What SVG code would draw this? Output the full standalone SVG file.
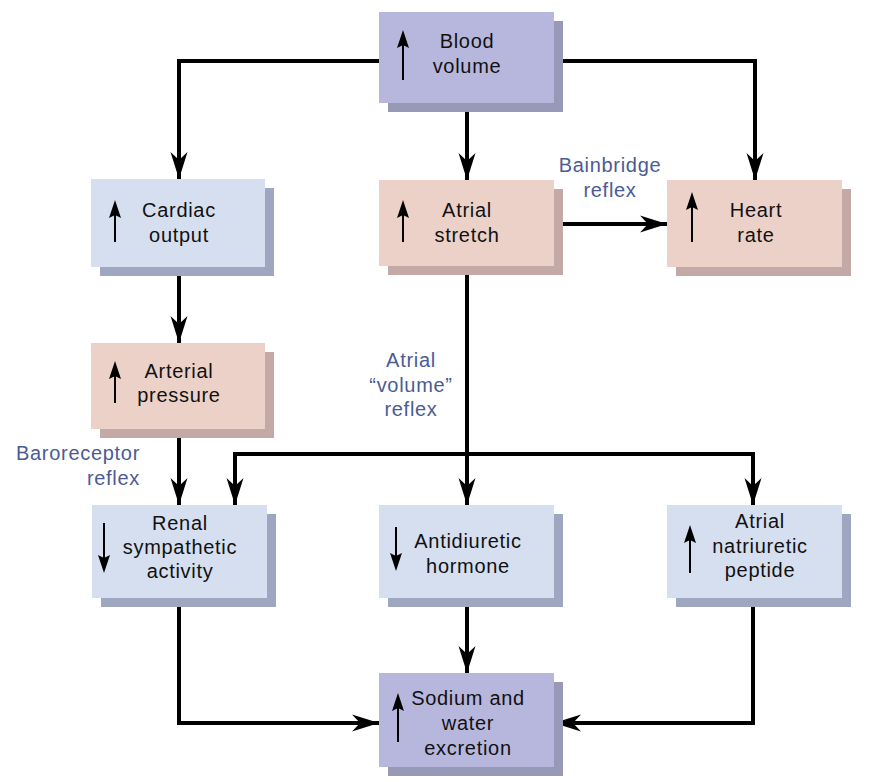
<svg xmlns="http://www.w3.org/2000/svg" width="873" height="781" viewBox="0 0 873 781">
<defs>
<style>
.blue{fill:#d5dff0}.blueS{fill:#9fa6c0}
.pink{fill:#ecd1c9}.pinkS{fill:#c4aaa6}
.purp{fill:#b7b7de}.purpS{fill:#9899b6}
.t{font-family:"Liberation Sans",Arial,sans-serif;font-size:20px;letter-spacing:0.7px;fill:#111;text-anchor:middle}
.lbl{font-family:"Liberation Sans",Arial,sans-serif;font-size:20px;letter-spacing:0.7px;fill:#4b5b96}
.con{fill:none;stroke:#000;stroke-width:4;marker-end:url(#ah)}
.ia{fill:none;stroke:#000;stroke-width:2}
.ih{fill:#000}
</style>
<marker id="ah" markerUnits="userSpaceOnUse" markerWidth="30" markerHeight="20" viewBox="-28 -10 30 20" refX="0" refY="0" orient="auto">
<path d="M0,0 L-27,-8.5 L-19,0 L-27,8.5 Z" fill="#000"/>
</marker>
</defs>

<g id="connectors">
<path class="con" d="M379,61 H179 V179"/>
<path class="con" d="M554,61 H755 V180"/>
<path class="con" d="M467,103 V180"/>
<path class="con" d="M554,224 H667"/>
<path class="con" d="M179,267 V343"/>
<path class="con" d="M179,429 V505"/>
<path class="con" d="M467,266 V505"/>
<path class="con" d="M467,454 H235 V505"/>
<path class="con" d="M467,454 H753 V505"/>
<path class="con" d="M179,598 V723 H379"/>
<path class="con" d="M467,598 V673"/>
<path class="con" d="M753,598 V723 H554"/>
</g>

<g id="blood-volume">
<rect class="purpS" x="388" y="21" width="175" height="91"/>
<rect class="purp" x="379" y="12" width="175" height="91"/>
<line class="ia" x1="403" y1="80" x2="403" y2="44"/><path class="ih" d="M403,30 L409,48 L403,45 L397,48 Z"/>
<text class="t" x="467" y="48">Blood</text><text class="t" x="467" y="73">volume</text>
</g>

<g id="cardiac-output">
<rect class="blueS" x="100" y="188" width="174" height="88"/>
<rect class="blue" x="91" y="179" width="174" height="88"/>
<line class="ia" x1="115" y1="242" x2="115" y2="214"/><path class="ih" d="M115,200 L121,218 L115,215 L109,218 Z"/>
<text class="t" x="179" y="217">Cardiac</text><text class="t" x="179" y="242">output</text>
</g>

<g id="atrial-stretch">
<rect class="pinkS" x="388" y="189" width="175" height="86"/>
<rect class="pink" x="379" y="180" width="175" height="86"/>
<line class="ia" x1="403" y1="242" x2="403" y2="214"/><path class="ih" d="M403,200 L409,218 L403,215 L397,218 Z"/>
<text class="t" x="467" y="217">Atrial</text><text class="t" x="467" y="242">stretch</text>
</g>

<g id="heart-rate">
<rect class="pinkS" x="676" y="189" width="175" height="87"/>
<rect class="pink" x="667" y="180" width="175" height="87"/>
<line class="ia" x1="692" y1="242" x2="692" y2="206"/><path class="ih" d="M692,192 L698,210 L692,207 L686,210 Z"/>
<text class="t" x="756" y="217">Heart</text><text class="t" x="756" y="242">rate</text>
</g>

<g id="arterial-pressure">
<rect class="pinkS" x="100" y="352" width="174" height="86"/>
<rect class="pink" x="91" y="343" width="174" height="86"/>
<line class="ia" x1="115" y1="403" x2="115" y2="375"/><path class="ih" d="M115,361 L121,379 L115,376 L109,379 Z"/>
<text class="t" x="179" y="378">Arterial</text><text class="t" x="179" y="402">pressure</text>
</g>

<g id="renal-sympathetic-activity">
<rect class="blueS" x="101" y="514" width="175" height="93"/>
<rect class="blue" x="92" y="505" width="175" height="93"/>
<line class="ia" x1="104" y1="523" x2="104" y2="559"/><path class="ih" d="M104,573 L110,555 L104,558 L98,555 Z"/>
<text class="t" x="180" y="530">Renal</text><text class="t" x="180" y="554">sympathetic</text><text class="t" x="180" y="578">activity</text>
</g>

<g id="antidiuretic-hormone">
<rect class="blueS" x="388" y="514" width="175" height="93"/>
<rect class="blue" x="379" y="505" width="175" height="93"/>
<line class="ia" x1="396" y1="527" x2="396" y2="557"/><path class="ih" d="M396,571 L402,553 L396,556 L390,553 Z"/>
<text class="t" x="468" y="548">Antidiuretic</text><text class="t" x="468" y="573">hormone</text>
</g>

<g id="atrial-natriuretic-peptide">
<rect class="blueS" x="676" y="514" width="175" height="93"/>
<rect class="blue" x="667" y="505" width="175" height="93"/>
<line class="ia" x1="690" y1="573" x2="690" y2="539"/><path class="ih" d="M690,525 L696,543 L690,540 L684,543 Z"/>
<text class="t" x="760" y="528">Atrial</text><text class="t" x="760" y="553">natriuretic</text><text class="t" x="760" y="577">peptide</text>
</g>

<g id="sodium-water-excretion">
<rect class="purpS" x="388" y="682" width="175" height="94"/>
<rect class="purp" x="379" y="673" width="175" height="94"/>
<line class="ia" x1="398" y1="742" x2="398" y2="707"/><path class="ih" d="M398,693 L404,711 L398,708 L392,711 Z"/>
<text class="t" x="468" y="705">Sodium and</text><text class="t" x="468" y="730">water</text><text class="t" x="468" y="755">excretion</text>
</g>

<g id="labels">
<text class="lbl" x="610" y="172" text-anchor="middle">Bainbridge</text>
<text class="lbl" x="610" y="197" text-anchor="middle">reflex</text>
<text class="lbl" x="411" y="367" text-anchor="middle">Atrial</text>
<text class="lbl" x="411" y="392" text-anchor="middle">“volume”</text>
<text class="lbl" x="411" y="416" text-anchor="middle">reflex</text>
<text class="lbl" x="140" y="460" text-anchor="end">Baroreceptor</text>
<text class="lbl" x="140" y="485" text-anchor="end">reflex</text>
</g>
</svg>
